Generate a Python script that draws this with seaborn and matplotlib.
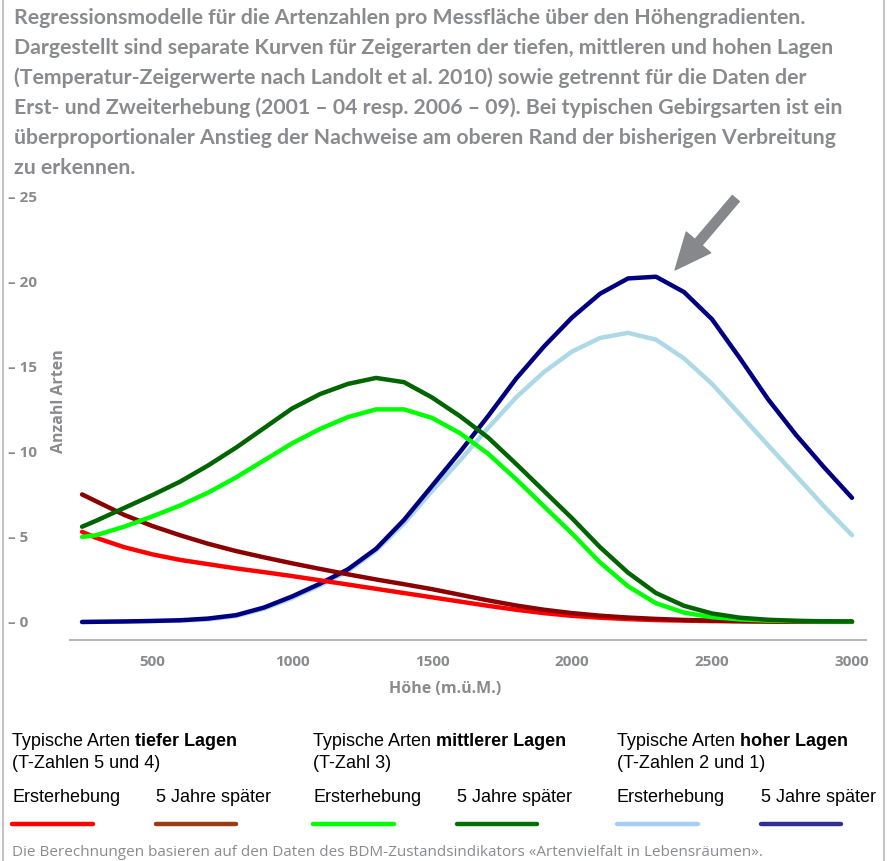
import pandas as pd
import matplotlib.pyplot as plt
import seaborn as sns
from matplotlib.lines import Line2D

# --- Data ---
hoehe = [250, 300, 400, 500, 600, 700, 800, 900, 1000, 1100, 1200, 1300, 1400, 1500,
         1600, 1700, 1800, 1900, 2000, 2100, 2200, 2300, 2400, 2500, 2600, 2700,
         2800, 2900, 3000]

tief_erst = [5.3, 4.95, 4.4, 3.98, 3.65, 3.4, 3.15, 2.93, 2.7, 2.45, 2.2, 1.95, 1.7, 1.45,
             1.2, 0.95, 0.72, 0.52, 0.36, 0.25, 0.17, 0.11, 0.08, 0.05, 0.04, 0.03,
             0.02, 0.01, 0.01]
tief_spaeter = [7.5, 7.1, 6.3, 5.65, 5.1, 4.6, 4.17, 3.8, 3.45, 3.12, 2.8, 2.5, 2.22, 1.93,
                1.6, 1.27, 0.97, 0.72, 0.52, 0.37, 0.26, 0.18, 0.12, 0.08, 0.05, 0.03,
                0.02, 0.01, 0.01]
mittel_erst = [5.0, 5.1, 5.6, 6.2, 6.85, 7.6, 8.5, 9.5, 10.5, 11.35, 12.05, 12.5, 12.5, 12.0,
               11.1, 9.9, 8.4, 6.8, 5.2, 3.5, 2.1, 1.1, 0.55, 0.28, 0.15, 0.08,
               0.05, 0.03, 0.02]
mittel_spaeter = [5.6, 5.95, 6.7, 7.45, 8.25, 9.2, 10.25, 11.4, 12.55, 13.4, 14.0, 14.35, 14.1, 13.2,
                  12.1, 10.85, 9.3, 7.7, 6.1, 4.4, 2.9, 1.7, 0.95, 0.5, 0.25, 0.13,
                  0.07, 0.04, 0.03]
hoch_erst = [0.0, 0.01, 0.02, 0.05, 0.08, 0.15, 0.35, 0.78, 1.4, 2.15, 3.0, 4.2, 5.8, 7.7,
             9.5, 11.4, 13.2, 14.7, 15.9, 16.7, 17.0, 16.6, 15.5, 14.0, 12.2, 10.4,
             8.6, 6.8, 5.1]
hoch_spaeter = [0.0, 0.01, 0.03, 0.06, 0.1, 0.2, 0.4, 0.85, 1.5, 2.25, 3.1, 4.3, 6.0, 8.0,
                10.0, 12.1, 14.3, 16.2, 17.9, 19.3, 20.2, 20.3, 19.4, 17.8, 15.5, 13.1,
                11.0, 9.1, 7.3]

y_ticks = [0, 5, 10, 15, 20, 25]
x_ticks = [500, 1000, 1500, 2000, 2500, 3000]

TITLE_LINES = [
    "Regressionsmodelle für die Artenzahlen pro Messfläche über den Höhengradienten.",
    "Dargestellt sind separate Kurven für Zeigerarten der tiefen, mittleren und hohen Lagen",
    "(Temperatur-Zeigerwerte nach Landolt et al. 2010) sowie getrennt für die Daten der",
    "Erst- und Zweiterhebung (2001 – 04 resp. 2006 – 09). Bei typischen Gebirgsarten ist ein",
    "überproportionaler Anstieg der Nachweise am oberen Rand der bisherigen Verbreitung",
    "zu erkennen.",
]
FOOTER = "Die Berechnungen basieren auf den Daten des BDM-Zustandsindikators «Artenvielfalt in Lebensräumen»."

# --- Styling ---
sns.set_theme(style="white")
plt.rcParams['font.family'] = ['Open Sans', 'DejaVu Sans']

GREY = '#8a8b8e'
W, H = 888, 861

df = pd.DataFrame({
    'Hoehe': hoehe,
    'tief_erst': tief_erst, 'tief_spaeter': tief_spaeter,
    'mittel_erst': mittel_erst, 'mittel_spaeter': mittel_spaeter,
    'hoch_erst': hoch_erst, 'hoch_spaeter': hoch_spaeter,
})

fig = plt.figure(figsize=(W / 100, H / 100), dpi=100)
ax = fig.add_axes([70 / W, 1 - 640 / H, (866 - 70) / W, (640 - 190) / H])

curve_colors = [
    ('hoch_erst', '#add8e6'), ('hoch_spaeter', '#000080'),
    ('tief_erst', '#ff0000'), ('tief_spaeter', '#8b0000'),
    ('mittel_erst', '#00ff00'), ('mittel_spaeter', '#006400'),
]
for col, c in curve_colors:
    sns.lineplot(data=df, x='Hoehe', y=col, ax=ax, color=c, lw=3.2,
                 solid_capstyle='round', solid_joinstyle='round')

ax.set_xlim(207, 3050)
ax.set_ylim(-1.06, 25.4)
for s in ['top', 'right', 'left']:
    ax.spines[s].set_visible(False)
ax.spines['bottom'].set_color('#b8b8bb')
ax.spines['bottom'].set_linewidth(1.5)

ax.set_xticks(x_ticks)
ax.set_xticklabels([str(t) for t in x_ticks], fontsize=11, fontweight='bold', color=GREY)
ax.tick_params(axis='x', direction='out', length=7, width=1, color='#b8b8bb', pad=4)

ax.set_yticks(y_ticks)
ax.set_yticklabels([f"– {t}" for t in y_ticks], fontsize=11, fontweight='bold',
                   color=GREY, ha='left')
ax.tick_params(axis='y', length=0, pad=62 * 0.72)

ax.set_xlabel('Höhe (m.ü.M.)', fontsize=11.5, fontweight='bold', color=GREY)
ax.xaxis.set_label_coords((445 - 70) / 796, -41 / 450)
ax.set_ylabel('Anzahl Arten', fontsize=11.5, fontweight='bold', color=GREY)
ax.yaxis.set_label_coords(-3 / 796, 0.53)

# arrow pointing at the peak of the high-altitude curve
ax.annotate('', xy=(2368, 20.7), xytext=(2585, 24.9),
            arrowprops=dict(arrowstyle='simple,head_length=1.3,head_width=1.15,tail_width=0.33',
                            color='#86888b', mutation_scale=20, shrinkA=0, shrinkB=0))

# --- title block, size fitted so the first line spans the reference width ---
renderer = fig.canvas.get_renderer()
title_font = ['Lato', 'DejaVu Sans']
probe = fig.text(0, 0, TITLE_LINES[0], fontsize=14, fontweight='bold', family=title_font)
title_size = 14 * 796 / probe.get_window_extent(renderer).width
probe.remove()
for i, line in enumerate(TITLE_LINES):
    fig.text(14 / W, 1 - (18 + 30 * i) / H, line, fontsize=title_size, fontweight='bold',
             family=title_font, color=GREY, va='center', ha='left')

# --- custom legend ---
groups = [
    (12, 'tiefer Lagen', '(T-Zahlen 5 und 4)', '#ff0000', '#9a3b10'),
    (313, 'mittlerer Lagen', '(T-Zahl 3)', '#00ff00', '#007000'),
    (617, 'hoher Lagen', '(T-Zahlen 2 und 1)', '#a4cef5', '#2e3192'),
]
leg_font = ['Liberation Sans', 'DejaVu Sans']
for x0, bold, sub, c1, c2 in groups:
    t = fig.text(x0 / W, 1 - 741 / H, 'Typische Arten ', fontsize=13, family=leg_font,
                 color='black', va='center', ha='left')
    bb = t.get_window_extent(renderer)
    fig.text(bb.x1 / W, 1 - 741 / H, bold, fontsize=13, family=leg_font, fontweight='bold',
             color='black', va='center', ha='left')
    fig.text(x0 / W, 1 - 763 / H, sub, fontsize=13, family=leg_font,
             color='black', va='center', ha='left')
    fig.text(x0 / W, 1 - 797 / H, 'Ersterhebung', fontsize=13, family=leg_font,
             color='black', va='center', ha='left')
    fig.text((x0 + 144) / W, 1 - 797 / H, '5 Jahre später', fontsize=13, family=leg_font,
             color='black', va='center', ha='left')
    fig.add_artist(Line2D([x0 / W, (x0 + 81) / W], [1 - 824 / H] * 2, color=c1, lw=3.2))
    fig.add_artist(Line2D([(x0 + 144) / W, (x0 + 224) / W], [1 - 824 / H] * 2, color=c2, lw=3.2))

fig.text(12 / W, 1 - 852 / H, FOOTER, fontsize=11, family=['Open Sans', 'DejaVu Sans'],
         color=GREY, va='center', ha='left')

# frame lines left and right
fig.add_artist(Line2D([3 / W, 3 / W], [0, 1], color='#c4c4c6', lw=1.5))
fig.add_artist(Line2D([884 / W, 884 / W], [0, 1], color='#c4c4c6', lw=1.5))

plt.savefig('out.png', dpi=100)
